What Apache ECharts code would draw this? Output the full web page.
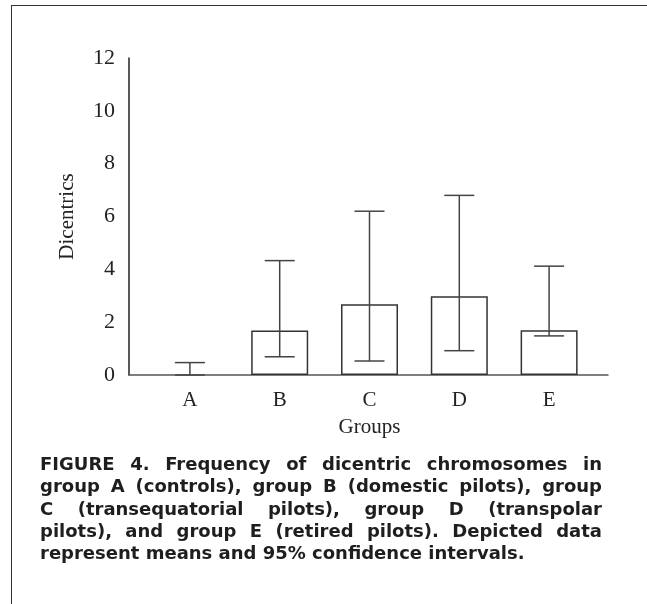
<!DOCTYPE html>
<html>
<head>
<meta charset="utf-8">
<script src="https://cdn.jsdelivr.net/npm/echarts@6/dist/echarts.min.js"></script>
<style>
  html, body { margin: 0; padding: 0; background: #fff; }
  #frame {
    position: absolute; left: 11px; top: 5px; width: 640px; height: 604px;
    border-left: 1.5px solid #333; border-top: 1.5px solid #333;
  }
  #chart { position: absolute; left: 0; top: 0; width: 647px; height: 604px; }
  #caption {
    position: absolute; left: 40px; top: 453px; width: 562px;
    font-family: "DejaVu Sans", sans-serif; font-weight: 700;
    font-size: 18px; line-height: 22.3px; color: #1e1e1e;
  }
  #caption div { text-align: justify; text-align-last: justify; white-space: nowrap; }
  #caption div.last { text-align-last: left; }
</style>
</head>
<body>
<div id="frame"></div>
<div id="chart"></div>
<div id="caption">
  <div>FIGURE 4. Frequency of dicentric chromosomes in</div>
  <div>group A (controls), group B (domestic pilots), group</div>
  <div>C (transequatorial pilots), group D (transpolar</div>
  <div>pilots), and group E (retired pilots). Depicted data</div>
  <div class="last">represent means and 95% confidence intervals.</div>
</div>
<script>
// data
const groups = ['A', 'B', 'C', 'D', 'E']
const means = [0, 1.68, 2.68, 2.98, 1.69]
const ciLow = [0, 0.69, 0.53, 0.92, 1.48]
const ciHigh = [0.47, 4.33, 6.2, 6.8, 4.12]
const yTicks = [0, 2, 4, 6, 8, 10, 12]

const serif = '"Liberation Serif", "DejaVu Serif", serif'
const chart = echarts.init(document.getElementById('chart'))

const errData = groups.map((g, i) => [i, ciLow[i], ciHigh[i]])
// a zero-height bar should not leave a thick outline on the axis
const barData = means.map(v => (v === 0 ? { value: v, itemStyle: { borderWidth: 0 } } : v))

chart.setOption({
  animation: false,
  grid: [
    { left: 145, right: 53, top: 58, bottom: 229 },
    { left: 129, right: 39, top: 58, bottom: 229 }
  ],
  xAxis: [
    {
      type: 'category',
      gridIndex: 0,
      data: groups,
      axisLine: { show: false },
      axisTick: { show: false },
      axisLabel: { margin: 15, fontFamily: serif, fontSize: 21, color: '#222' },
      name: 'Groups',
      nameLocation: 'middle',
      nameGap: 42,
      nameTextStyle: { fontFamily: serif, fontSize: 21, color: '#222' }
    },
    {
      type: 'value',
      gridIndex: 1,
      min: 0,
      max: 1,
      axisLine: { show: true, lineStyle: { color: '#555', width: 1.5 } },
      axisTick: { show: false },
      axisLabel: { show: false },
      splitLine: { show: false }
    }
  ],
  yAxis: [
    {
      type: 'value',
      gridIndex: 0,
      min: yTicks[0],
      max: yTicks[yTicks.length - 1],
      interval: 2,
      offset: 16,
      axisLine: { show: true, lineStyle: { color: '#222', width: 1.5 } },
      axisTick: { show: false },
      splitLine: { show: false },
      axisLabel: { margin: 14, fontFamily: serif, fontSize: 22, color: '#222' },
      name: 'Dicentrics',
      nameLocation: 'middle',
      nameGap: 51,
      nameRotate: 90,
      nameTextStyle: { fontFamily: serif, fontSize: 21, color: '#222' }
    },
    { type: 'value', gridIndex: 1, show: false, min: 0, max: 1 }
  ],
  series: [
    {
      type: 'bar',
      xAxisIndex: 0,
      yAxisIndex: 0,
      data: barData,
      barWidth: 57,
      itemStyle: { color: '#fff', borderColor: '#333', borderWidth: 1.5 }
    },
    {
      type: 'custom',
      xAxisIndex: 0,
      yAxisIndex: 0,
      data: errData,
      encode: { x: 0, y: [1, 2] },
      z: 5,
      renderItem: (params, api) => {
        const lo = api.coord([api.value(0), api.value(1)])
        const hi = api.coord([api.value(0), api.value(2)])
        const half = 15
        const style = { stroke: '#444', lineWidth: 1.5 }
        return {
          type: 'group',
          children: [
            { type: 'line', shape: { x1: lo[0], y1: lo[1], x2: hi[0], y2: hi[1] }, style },
            { type: 'line', shape: { x1: hi[0] - half, y1: hi[1], x2: hi[0] + half, y2: hi[1] }, style },
            { type: 'line', shape: { x1: lo[0] - half, y1: lo[1], x2: lo[0] + half, y2: lo[1] }, style }
          ]
        }
      }
    }
  ]
})

window.addEventListener('resize', () => chart.resize())
</script>
</body>
</html>
